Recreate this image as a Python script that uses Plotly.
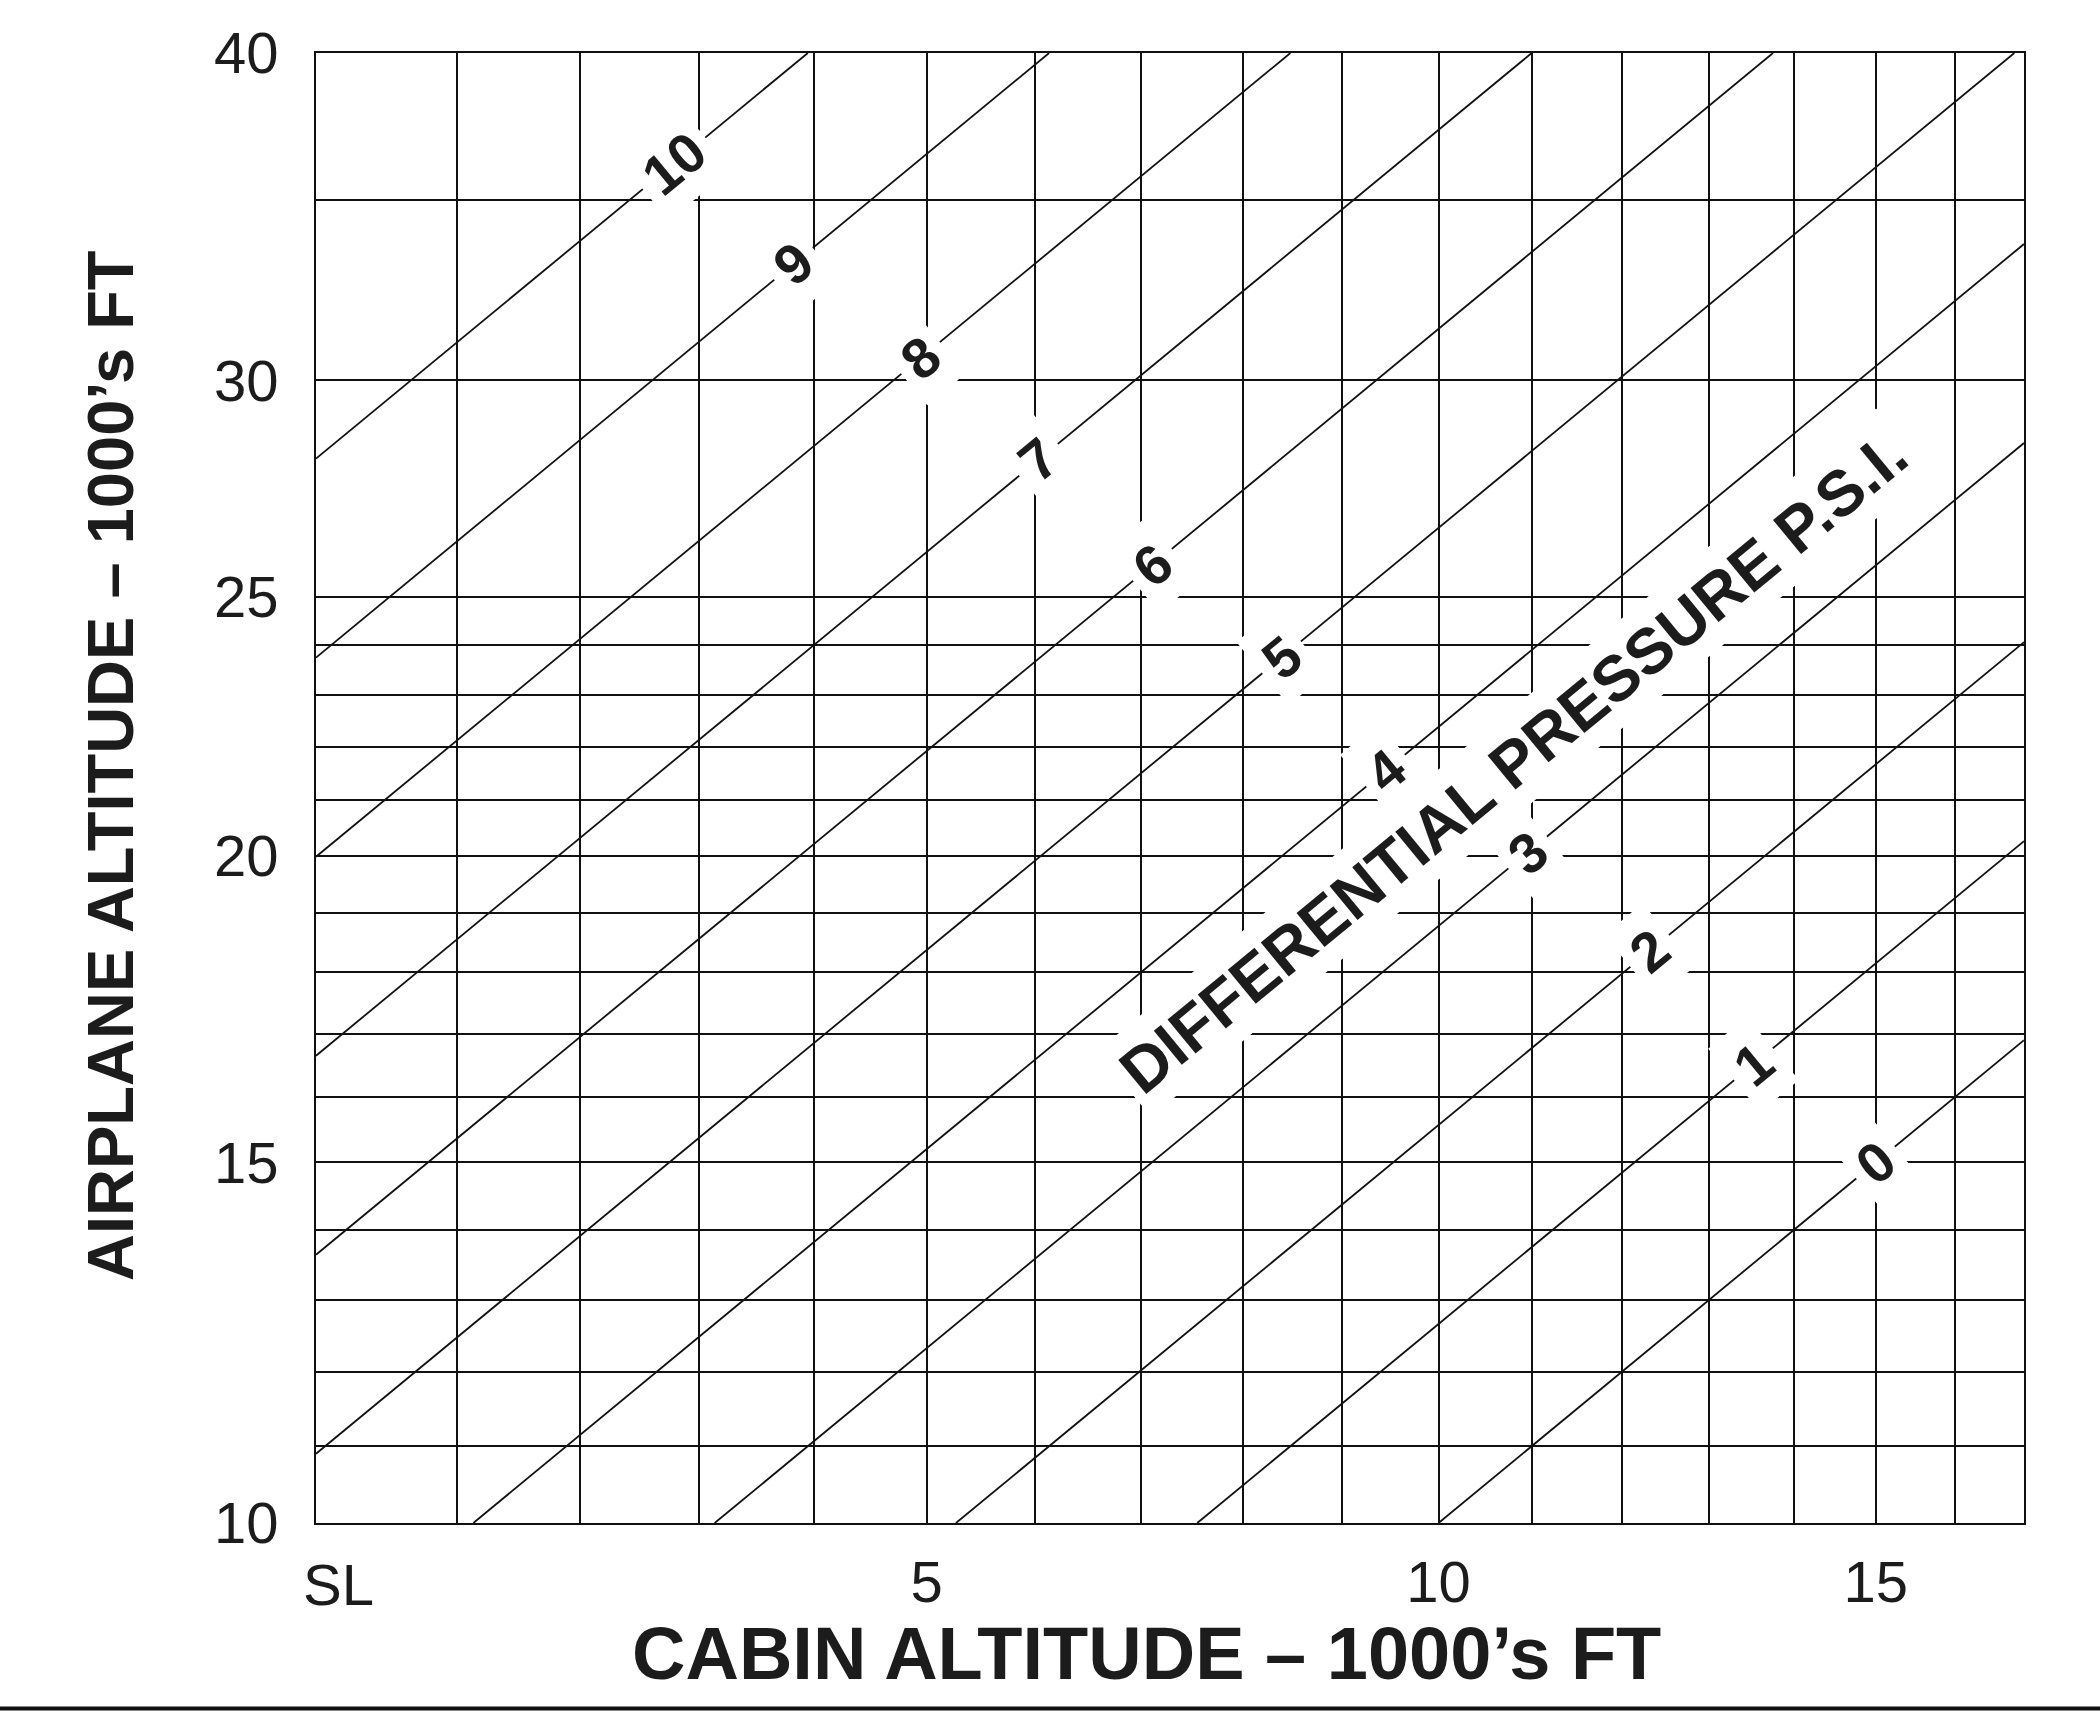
import numpy as np
import plotly.graph_objects as go

# ---------------- data ----------------
# Standard atmosphere table: altitude (1000 ft) -> static pressure (psi)
alt_kft = [0, 1, 2, 3, 4, 5, 6, 7, 8, 9, 10, 11, 12, 13, 14, 15, 16, 17, 18, 19,
           20, 21, 22, 23, 24, 25, 30, 35, 40]
pressure_psi = [14.696, 14.173, 13.664, 13.171, 12.693, 12.228, 11.777, 11.340,
                10.916, 10.505, 10.106, 9.720, 9.346, 8.984, 8.633, 8.294, 7.965,
                7.647, 7.339, 7.041, 6.753, 6.475, 6.206, 5.946, 5.696, 5.453,
                4.365, 3.459, 2.720]

cabin_grid_kft = list(range(1, 17))          # interior vertical grid lines
cabin_labels = {0: "SL", 5: "5", 10: "10", 15: "15"}
airplane_grid_kft = list(range(10, 26)) + [30, 35, 40]
airplane_labels = {10: "10", 15: "15", 20: "20", 25: "25", 30: "30", 40: "40"}

diff_pressure_psi = [0, 1, 2, 3, 4, 5, 6, 7, 8, 9, 10]
# cabin altitude (1000 ft) where each differential-pressure label sits
label_cabin_kft = [15.0, 13.52, 12.32, 10.96, 9.45, 8.39, 7.11, 6.03, 4.95, 3.82, 2.79]

x_title = "CABIN ALTITUDE – 1000’s FT"
y_title = "AIRPLANE ALTITUDE – 1000’s FT"
band_title = "DIFFERENTIAL PRESSURE P.S.I."
band_cabin_kft, band_airplane_kft = 10.8, 21.7


def p_of(h):
    return float(np.interp(h, alt_kft, pressure_psi))


# ---------------- layout geometry ----------------
W, H = 2100, 1711
ML, MR, MT, MB = 316, 76, 53, 188
PW, PH = W - ML - MR, H - MT - MB

# horizontal scale: sea level sits at the left frame, 241.3 px per psi
SL_PX, X_SCALE = 331.0, 241.3
x_lo = p_of(0) + (SL_PX - ML) / X_SCALE
x_hi = p_of(0) - (W - MR - SL_PX) / X_SCALE
y_lo, y_hi = p_of(10), p_of(40)

px_per_psi_y = PH / (y_lo - y_hi)
angle = -np.degrees(np.arctan(px_per_psi_y / X_SCALE))

fig = go.Figure()

# differential pressure lines: airplane pressure = cabin pressure - dP
for dp in diff_pressure_psi:
    xa = min(x_lo, y_lo + dp)
    xb = max(x_hi, y_hi + dp)
    fig.add_trace(go.Scatter(x=[xa, xb], y=[xa - dp, xb - dp], mode="lines",
                             line=dict(color="#111111", width=1.8),
                             hoverinfo="skip", showlegend=False))

TXT = "#1c1c1c"
annotations = []
for dp, hc in zip(diff_pressure_psi, label_cabin_kft):
    xc = p_of(hc)
    annotations.append(dict(x=xc, y=xc - dp, xref="x", yref="y",
                            text="<b>" + str(dp) + "</b>",
                            showarrow=False, textangle=angle, bgcolor="white",
                            borderpad=9, xanchor="center", yanchor="middle",
                            font=dict(family="Liberation Sans, Arial", size=56,
                                      color=TXT)))

# band title between the 3 and 4 psi lines
bx, by = p_of(band_cabin_kft), p_of(band_airplane_kft)
annotations.append(dict(x=bx, y=by, xref="x", yref="y",
                        text="<b>" + band_title + "</b>",
                        showarrow=False, textangle=angle, bgcolor="white",
                        borderpad=6, xanchor="center", yanchor="middle",
                        font=dict(family="Liberation Sans, Arial", size=64,
                                  color=TXT)))

# sea-level tick label (the SL grid line is the left frame)
annotations.append(dict(x=p_of(0), y=-(1584 - (MT + PH)) / PH, xref="x", yref="paper",
                        text=cabin_labels[0], showarrow=False, xanchor="center",
                        yanchor="middle", xshift=7,
                        font=dict(family="Liberation Sans, Arial", size=58, color=TXT)))

# axis titles
annotations.append(dict(x=(1146 - ML) / PW, y=-(1653 - (MT + PH)) / PH,
                        xref="paper", yref="paper", text="<b>" + x_title + "</b>",
                        showarrow=False, xanchor="center", yanchor="middle",
                        font=dict(family="Liberation Sans, Arial", size=74,
                                  color=TXT)))
annotations.append(dict(x=(110 - ML) / PW, y=((MT + PH) - 766) / PH,
                        xref="paper", yref="paper", text="<b>" + y_title + "</b>",
                        showarrow=False, textangle=-90, xanchor="center",
                        yanchor="middle",
                        font=dict(family="Liberation Sans, Arial", size=65,
                                  color=TXT)))

xt_vals = [p_of(h) for h in cabin_grid_kft]
xt_text = [cabin_labels.get(h, "") for h in cabin_grid_kft]
yt_vals = [p_of(h) for h in airplane_grid_kft]
yt_text = [airplane_labels.get(h, "") for h in airplane_grid_kft]

axis_common = dict(showgrid=True, gridcolor="#111111", gridwidth=2,
                   showline=True, mirror=True, linecolor="#111111", linewidth=2,
                   zeroline=False, ticks="", tickmode="array",
                   tickfont=dict(family="Liberation Sans, Arial", size=58, color=TXT))

fig.update_layout(
    width=W, height=H,
    margin=dict(l=ML, r=MR, t=MT, b=MB, pad=0),
    paper_bgcolor="white", plot_bgcolor="white",
    xaxis=dict(range=[x_lo, x_hi], tickvals=xt_vals, ticktext=xt_text,
               ticklabelstandoff=7, **axis_common),
    yaxis=dict(range=[y_lo, y_hi], tickvals=yt_vals, ticktext=yt_text,
               ticklabelstandoff=24, **axis_common),
    annotations=annotations,
    shapes=[dict(type="line", xref="paper", yref="paper",
                 x0=-ML / PW - 0.01, x1=1 + MR / PW + 0.01,
                 y0=-(1708.5 - (MT + PH)) / PH, y1=-(1708.5 - (MT + PH)) / PH,
                 line=dict(color="#111111", width=4), layer="above")],
)

fig.write_html("out.html")
